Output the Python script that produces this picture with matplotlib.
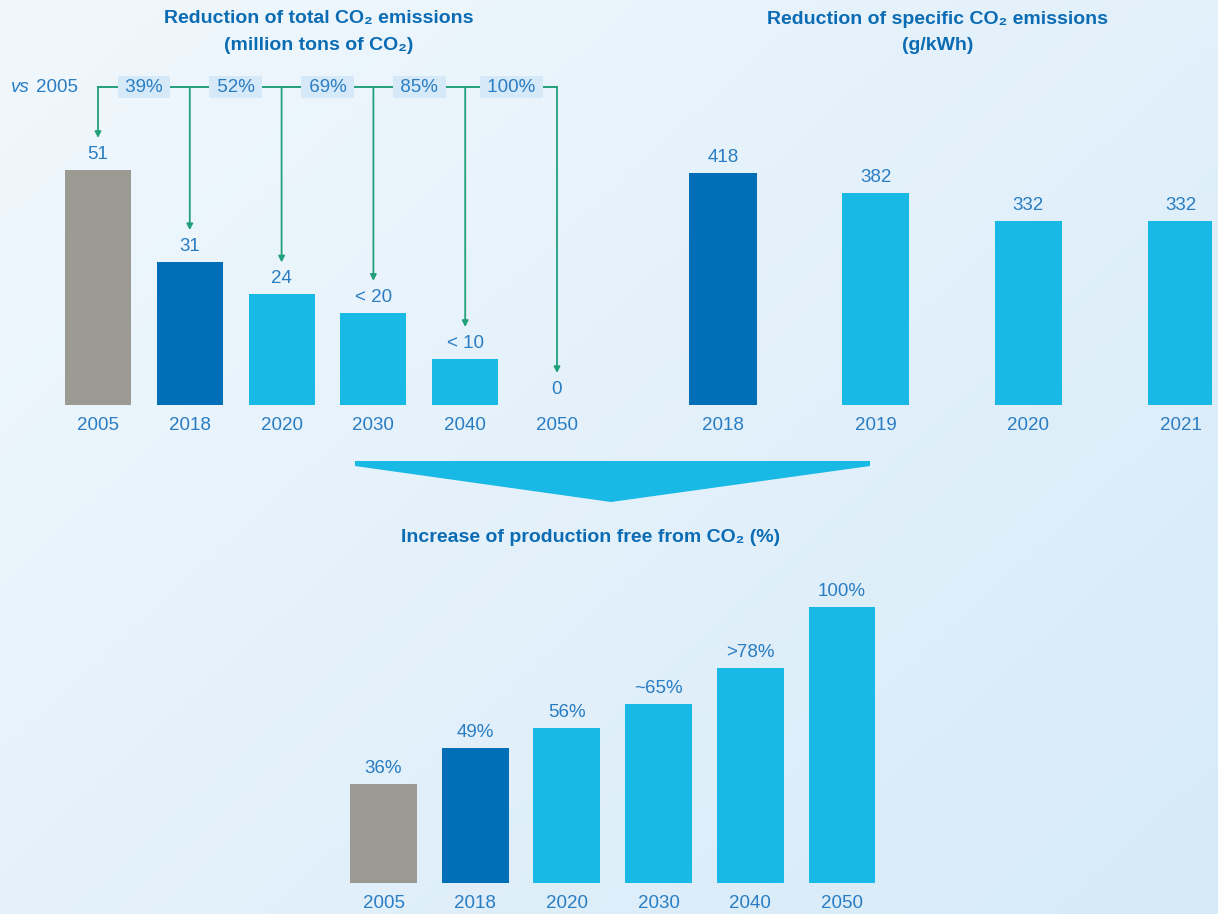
import numpy as np
import matplotlib
matplotlib.use("Agg")
import matplotlib.pyplot as plt
from matplotlib.patches import Polygon

plt.rcParams['font.family'] = ['Liberation Sans', 'DejaVu Sans']

# Total CO2 emissions (million tons)
total_years = ['2005', '2018', '2020', '2030', '2040', '2050']
total_values = [51, 31, 24, 20, 10, 0]
total_labels = ['51', '31', '24', '< 20', '< 10', '0']
reduction_labels = ['39%', '52%', '69%', '85%', '100%']

# Specific CO2 emissions (g/kWh)
spec_years = ['2018', '2019', '2020', '2021']
spec_values = [418, 382, 332, 332]

# CO2-free production share (%)
free_years = ['2005', '2018', '2020', '2030', '2040', '2050']
free_values = [36, 49, 56, 65, 78, 100]
free_labels = ['36%', '49%', '56%', '~65%', '>78%', '100%']

GRAY = '#9c9b93'
DARK = '#006fb8'
LIGHT = '#19b9e6'
TXT = '#2a7dc2'
TITLE = '#0b6cb4'
GREEN = '#22a07a'

W, H = 1218, 914
fig = plt.figure(figsize=(W / 100, H / 100), dpi=100)

# soft diagonal background
bg = fig.add_axes([0, 0, 1, 1])
yy, xx = np.mgrid[0:1:200j, 0:1:200j]
t = (xx * 0.55 + yy * 0.45)
c0 = np.array([0xf1, 0xf8, 0xfd]) / 255
c1 = np.array([0xd6, 0xea, 0xf8]) / 255
grad = c0[None, None, :] * (1 - t[..., None]) + c1[None, None, :] * t[..., None]
bg.imshow(grad, aspect='auto', extent=[0, 1, 0, 1], origin='upper')
bg.set_axis_off()


def panel(c0, step, lo, hi, base_px, top_px, scale):
    ax = fig.add_axes([(c0 + lo * step) / W, 1 - base_px / H,
                       (hi - lo) * step / W, (base_px - top_px) / H])
    ax.set_xlim(lo, hi)
    ax.set_ylim(0, (base_px - top_px) / scale)
    ax.set_axis_off()
    ax.patch.set_alpha(0)
    return ax


def bars(ax, cats, vals, labels, width, colors, fs=13.5):
    x = np.arange(len(cats))
    ax.bar(x, vals, width=width, color=colors, zorder=2)
    for xi, v, lab in zip(x, vals, labels):
        ax.annotate(lab, (xi, v), xytext=(0, 5), textcoords='offset points',
                    ha='center', va='bottom', fontsize=fs, color=TXT)
    for xi, c in zip(x, cats):
        ax.annotate(c, (xi, 0), xytext=(0, -9), textcoords='offset points',
                    ha='center', va='top', fontsize=fs, color=TXT,
                    annotation_clip=False)
    return x


def colors_for(n):
    return [GRAY if i == 0 else (DARK if i == 1 else LIGHT) for i in range(n)]


# ---- top left: total emissions ----
s1 = 4.61
ax1 = panel(98, 91.8, -1, 6, 405, 30, s1)
x1 = bars(ax1, total_years, total_values, total_labels, 0.72,
          colors_for(len(total_years)))
line_y = (405 - 87) / s1
gap = 32 / s1
ax1.plot([x1[0], x1[-1]], [line_y, line_y], color=GREEN, lw=1.4,
         zorder=1, clip_on=False)
for xi, v in zip(x1, total_values):
    ax1.annotate('', xy=(xi, v + gap), xytext=(xi, line_y),
                 arrowprops=dict(arrowstyle='-|>,head_length=0.35,head_width=0.18',
                                 color=GREEN, lw=1.3, shrinkA=0, shrinkB=0),
                 annotation_clip=False)
for xi, lab in zip(x1[:-1] + 0.5, reduction_labels):
    ax1.text(xi, line_y, ' ' + lab + ' ', ha='center', va='center',
             fontsize=13.5, color=TXT, zorder=3,
             bbox=dict(boxstyle='square,pad=0.12', fc='#d5e9f8', ec='none'))
ax1.text(-0.22, line_y, '2005', ha='right', va='center', fontsize=13.5,
         color=TXT)
ax1.text(-0.74, line_y, 'vs', ha='right', va='center', fontsize=13.5,
         color=TXT, style='italic')

# ---- top right: specific emissions ----
s2 = 0.555
ax2 = panel(723, 152.7, -0.5, 3.2, 405, 120, s2)
bars(ax2, spec_years, spec_values, [str(v) for v in spec_values], 0.44,
     [DARK] + [LIGHT] * 3)

# ---- bottom: CO2-free production ----
s3 = 2.76
ax3 = panel(383.5, 91.7, -0.6, 5.6, 883, 560, s3)
bars(ax3, free_years, free_values, free_labels, 0.73,
     colors_for(len(free_years)))

# connecting funnel arrow
funnel = [(355, 461), (870, 461), (870, 466), (611, 502), (355, 466)]
fig.patches.append(Polygon([(px / W, 1 - py / H) for px, py in funnel],
                           closed=True, fc=LIGHT, ec='none',
                           transform=fig.transFigure, figure=fig))

# titles
tkw = dict(ha='center', va='center', fontsize=14, color=TITLE,
           family=['Liberation Sans', 'DejaVu Sans'], weight='bold')
fig.text(319 / W, 1 - 19 / H, 'Reduction of total CO\u2082 emissions', **tkw)
fig.text(319 / W, 1 - 46 / H, '(million tons of CO\u2082)', **tkw)
fig.text(938 / W, 1 - 19 / H, 'Reduction of specific CO\u2082 emissions', **tkw)
fig.text(938 / W, 1 - 46 / H, '(g/kWh)', **tkw)
fig.text(591 / W, 1 - 538 / H, 'Increase of production free from CO\u2082 (%)',
         **tkw)

fig.savefig('out.png', dpi=100)
